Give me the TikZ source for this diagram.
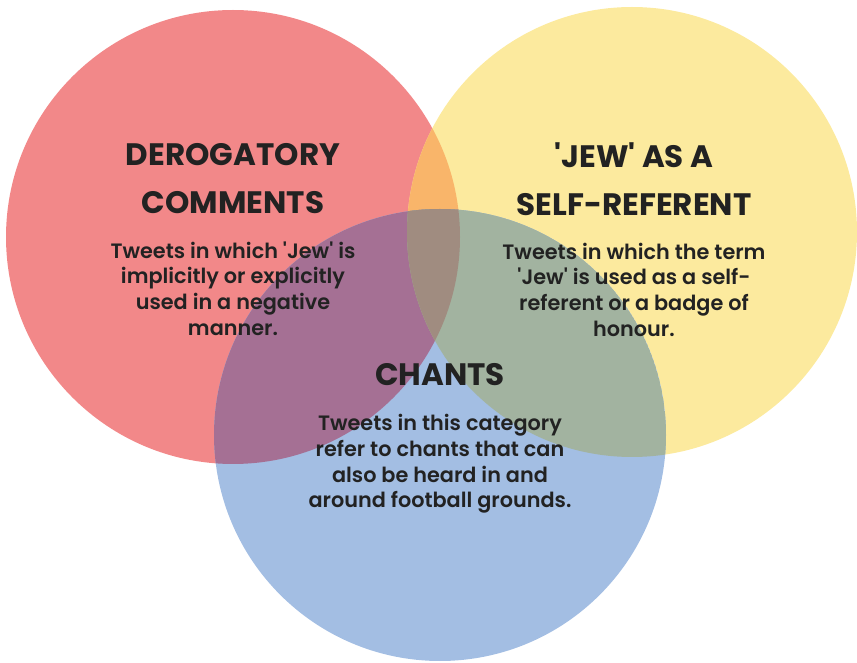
\documentclass[tikz,border=0pt]{standalone}
\usepackage{xcolor}
\usepackage{fontspec}
\setmainfont{Poppins}
\newfontfamily\bodyfont{Poppins SemiBold}
\usepackage{tikz}
\usetikzlibrary{positioning}

\definecolor{redc}{RGB}{242,136,137}
\definecolor{yellowc}{RGB}{252,234,158}
\definecolor{bluec}{RGB}{163,190,227}
\definecolor{redyellow}{RGB}{249,181,106}
\definecolor{redblue}{RGB}{165,112,148}
\definecolor{yellowblue}{RGB}{162,179,160}
\definecolor{allthree}{RGB}{160,140,128}
\definecolor{inkc}{RGB}{34,34,34}

\begin{document}
\begin{tikzpicture}[x=1pt, y=1pt,
  title/.style={text=inkc, align=center, font=\bfseries\fontsize{31}{48}\selectfont, inner sep=0},
  body/.style={text=inkc, align=center, font=\bodyfont\fontsize{20.8}{25.7}\selectfont, inner sep=0}]

\useasboundingbox (0,0) rectangle (857,662);

% circles %
\fill[redc] (233,425) circle (227);
\fill[yellowc] (632,430) circle (225);
\fill[bluec] (440,227) circle (226);

% overlaps %
\begin{scope}
\clip (233,425) circle (227);
\fill[redyellow] (632,430) circle (225);
\fill[redblue] (440,227) circle (226);
\clip (632,430) circle (225);
\fill[allthree] (440,227) circle (226);
\end{scope}
\begin{scope}
\clip (632,430) circle (225);
\clip (440,227) circle (226);
\fill[yellowblue] (440,227) circle (226);
\clip (233,425) circle (227);
\fill[allthree] (440,227) circle (226);
\end{scope}

% nodes %
\node[title] (dt) at (233,483) {DEROGATORY\\COMMENTS};
\node[body, below = 27 of dt] (db) {Tweets in which \textquotesingle Jew\textquotesingle{} is\\implicitly or explicitly\\used in a negative\\manner.};

\node[title] (st) at (634,483) {\textquotesingle JEW\textquotesingle{} AS A\\SELF-REFERENT};
\node[body, below = 27 of st] (sb) {Tweets in which the term\\\textquotesingle Jew\textquotesingle{} is used as a self-\\referent or a badge of\\honour.};

\node[title] (ct) at (440,287) {CHANTS};
\node[body, below = 28 of ct] (cb) {Tweets in this category\\refer to chants that can\\also be heard in and\\around football grounds.};

\end{tikzpicture}
\end{document}
